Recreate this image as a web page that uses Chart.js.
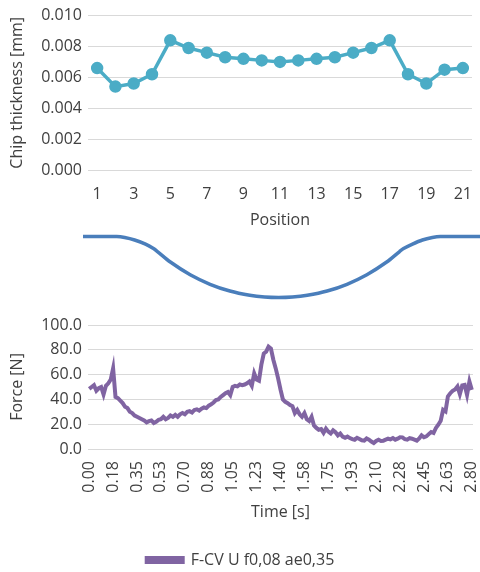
<!DOCTYPE html>
<html>
<head>
<meta charset="utf-8">
<script src="https://cdn.jsdelivr.net/npm/chart.js@4.4.1/dist/chart.umd.min.js"></script>
<style>
  html, body { margin: 0; padding: 0; background: #fff; }
  body { width: 480px; height: 572px; position: relative; overflow: hidden; }
  .box { position: absolute; }
</style>
</head>
<body>
<div class="box" style="left:0;top:0;width:480px;height:230px"><canvas id="thick"></canvas></div>
<div class="box" style="left:83px;top:225px;width:397px;height:85px"><canvas id="profile"></canvas></div>
<div class="box" style="left:0;top:308px;width:480px;height:270px"><canvas id="force"></canvas></div>
<script>
// chip thickness per position
const positions = ['1','2','3','4','5','6','7','8','9','10','11','12','13','14','15','16','17','18','19','20','21'];
const thickness = [0.0066, 0.0054, 0.0056, 0.0062, 0.0084, 0.0079, 0.0076, 0.0073, 0.0072, 0.0071, 0.0070,
  0.0071, 0.0072, 0.0073, 0.0076, 0.0079, 0.0084, 0.0062, 0.0056, 0.0065, 0.0066];

// workpiece contour (x along part, depth)
const profileX = [0, 3.4, 4.2, 5.2, 6.3, 7.1, 7.5, 8.8, 10.8, 12.8, 14.8, 16.8, 18.3, 19.7, 21.1, 22.6,
  24.6, 26.6, 28.6, 30.6, 31.9, 32.3, 33.2, 34.2, 35.2, 36.0, 40];
const profileY = [0, 0, -0.1, -0.35, -0.76, -1.21, -1.51, -2.57, -3.85, -4.81, -5.49, -5.92, -6.1, -6.15,
  -6.1, -5.92, -5.49, -4.81, -3.85, -2.57, -1.51, -1.21, -0.76, -0.35, -0.1, 0, 0];

// force over time, labels every 10th sample
const timeTicks = ['0.00','0.18','0.35','0.53','0.70','0.88','1.05','1.23','1.40','1.58','1.75','1.93','2.10','2.28','2.45','2.63','2.80'];
const force = [
  48.5, 50, 51.5, 47, 49, 50, 44, 51, 53, 56,
  65, 42, 41, 39, 37, 34, 33, 30, 29, 27,
  26, 25, 24, 23, 21.5, 22.5, 23, 21, 22, 23.5,
  24, 26, 24, 25, 27, 26, 27.5, 26, 28, 29,
  28, 30, 30.5, 29.5, 31.5, 32, 31, 32.5, 33.5, 33,
  35, 36, 37.5, 39.5, 40, 42, 43.5, 45, 46, 43.5,
  50, 51, 50.5, 52, 51.5, 52, 53, 54.5, 51, 61,
  56, 55, 68, 77, 78.5, 82.5, 81, 72, 65, 57,
  48, 40, 38, 37, 35.5, 34.5, 29, 31.5, 28, 26,
  29, 24, 22.5, 26, 19, 17, 15.5, 16, 13, 16.5,
  14, 12.5, 15, 13.5, 11, 12.5, 10, 9, 10, 8.8,
  8, 7.5, 9, 8, 7, 6.7, 8.5, 7.5, 6, 4.8,
  6.5, 7.5, 6.5, 6.7, 7.5, 8.3, 7.8, 8.8, 7.5, 8.3,
  9.5, 9.4, 8, 7.5, 8.8, 8.3, 7.5, 6.7, 8.5, 11,
  9.5, 10.2, 12, 13.7, 12.9, 17, 19.6, 22.8, 31.6, 30.3,
  42.4, 45, 46.9, 48, 50.4, 44.2, 51.2, 51.7, 43.7, 54.4,
  47.7
];

const font = { family: 'Open Sans', size: 16 };
const textColor = '#404040';
const gridColor = '#d9d9d9';

new Chart(document.getElementById('thick'), {
  type: 'line',
  data: {
    labels: positions,
    datasets: [{
      data: thickness,
      borderColor: '#4bacc6',
      backgroundColor: '#4bacc6',
      borderWidth: 3.5,
      pointRadius: 4.5,
      pointHoverRadius: 4.5,
      tension: 0
    }]
  },
  options: {
    responsive: true,
    maintainAspectRatio: false,
    animation: false,
    layout: { padding: { top: 13, right: 7, left: 8, bottom: 0 } },
    plugins: { legend: { display: false }, tooltip: { enabled: false } },
    scales: {
      x: {
        offset: true,
        grid: { display: false },
        border: { display: false },
        ticks: {
          autoSkip: false, maxRotation: 0, color: textColor, font: font, padding: 7,
          callback: function (v, i) { return i % 2 === 0 ? this.getLabelForValue(v) : ''; }
        },
        title: { display: true, text: 'Position', color: textColor, font: font, padding: { top: 4, bottom: 0 } },
        afterFit: s => { s.height = 60; s.paddingLeft = 0; s.paddingRight = 0; }
      },
      y: {
        min: 0, max: 0.01,
        grid: { color: gridColor, drawTicks: false },
        border: { display: false },
        ticks: { stepSize: 0.002, color: textColor, font: font, padding: 6, callback: v => v.toFixed(3) },
        title: { display: true, text: 'Chip thickness [mm]', color: textColor, font: font, padding: 0 },
        afterFit: s => { s.width = 80; }
      }
    }
  }
});

new Chart(document.getElementById('profile'), {
  type: 'scatter',
  data: {
    datasets: [{
      data: profileX.map((x, i) => ({ x: x, y: profileY[i] })),
      showLine: true,
      borderColor: '#4a7ebb',
      borderWidth: 3.5,
      pointRadius: 0,
      tension: 0.3,
      clip: false
    }]
  },
  options: {
    responsive: true,
    maintainAspectRatio: false,
    animation: false,
    layout: { padding: 0 },
    plugins: { legend: { display: false }, tooltip: { enabled: false } },
    scales: {
      x: { type: 'linear', min: 0, max: 40, display: false },
      y: { min: -7.4, max: 1.16, display: false }
    }
  }
});

new Chart(document.getElementById('force'), {
  type: 'line',
  data: {
    labels: force.map((v, i) => i % 10 === 0 ? timeTicks[i / 10] : ''),
    datasets: [{
      label: 'F-CV U f0,08 ae0,35',
      data: force,
      borderColor: '#8064a2',
      backgroundColor: '#8064a2',
      borderWidth: 4,
      pointRadius: 0,
      tension: 0
    }]
  },
  options: {
    responsive: true,
    maintainAspectRatio: false,
    animation: false,
    layout: { padding: { top: 17, right: 7, left: 8, bottom: 0 } },
    plugins: {
      legend: {
        position: 'bottom',
        labels: { boxWidth: 36, boxHeight: 4, color: textColor, font: font, padding: 5 }
      },
      tooltip: { enabled: false }
    },
    scales: {
      x: {
        offset: true,
        grid: { display: false },
        border: { display: false },
        ticks: { autoSkip: false, minRotation: 90, maxRotation: 90, color: textColor, font: font, padding: 4 },
        title: { display: true, text: 'Time [s]', color: textColor, font: font, padding: { top: 4, bottom: 25 } },
        afterFit: s => { s.height = 98; s.paddingLeft = 0; s.paddingRight = 0; }
      },
      y: {
        min: 0, max: 100,
        grid: { color: gridColor, drawTicks: false },
        border: { display: false },
        ticks: { stepSize: 20, color: textColor, font: font, padding: 6, callback: v => v.toFixed(1) },
        title: { display: true, text: 'Force [N]', color: textColor, font: font, padding: 0 },
        afterFit: s => { s.width = 80; }
      }
    }
  }
});
</script>
</body>
</html>
